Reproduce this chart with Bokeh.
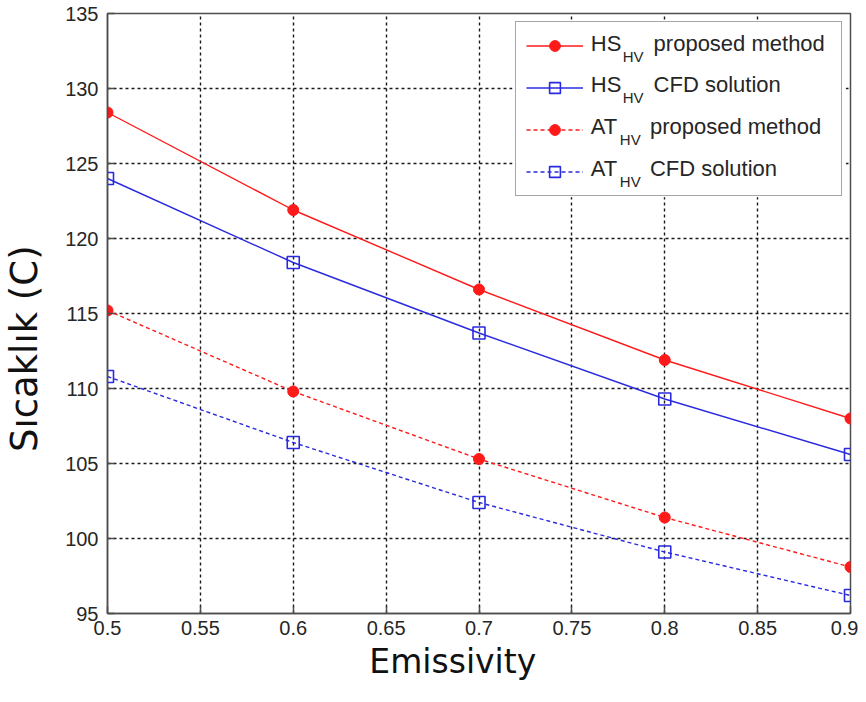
from bokeh.plotting import figure
from bokeh.models import (Range1d, FixedTicker, Legend, LegendItem,
                          ColumnDataSource, BoxAnnotation)
from bokeh.core.properties import value
from bokeh.embed import file_html
from bokeh.resources import INLINE

# ---- data ----
emissivity = [0.5, 0.6, 0.7, 0.8, 0.9]
hs_proposed = [128.4, 121.9, 116.6, 111.9, 108.0]
hs_cfd = [124.0, 118.4, 113.7, 109.3, 105.6]
at_proposed = [115.2, 109.8, 105.3, 101.4, 98.1]
at_cfd = [110.8, 106.4, 102.4, 99.1, 96.2]

x_ticks = [0.5, 0.55, 0.6, 0.65, 0.7, 0.75, 0.8, 0.85, 0.9]
x_tick_labels = ["0.5", "0.55", "0.6", "0.65", "0.7", "0.75", "0.8", "0.85", "0.9"]
y_ticks = [95, 100, 105, 110, 115, 120, 125, 130, 135]

x_title = "Emissivity"
y_title = "Sıcaklık (C)"

legend_prefix = ["HS", "HS", "AT", "AT"]
legend_sub = ["HV", "HV", "HV", "HV"]
legend_rest = ["proposed method", "CFD solution", "proposed method", "CFD solution"]

RED = "#ff1a1a"
BLUE = "#2a2ae0"
TICK_FONT = "Liberation Sans"
NBSP = "\u00a0"

p = figure(width=858, height=686,
           x_range=Range1d(0.5, 0.9), y_range=Range1d(95, 135),
           output_backend="svg", toolbar_location=None,
           min_border_left=106, min_border_right=8,
           min_border_top=13, min_border_bottom=73)

p.outline_line_color = "#4d4d4d"
p.outline_line_width = 1.5

# axes
p.xaxis.ticker = FixedTicker(ticks=x_ticks)
p.xaxis.major_label_overrides = {t: l for t, l in zip(x_ticks, x_tick_labels)}
p.yaxis.ticker = FixedTicker(ticks=y_ticks)
for ax in (p.xaxis[0], p.yaxis[0]):
    ax.axis_line_color = "#4d4d4d"
    ax.axis_line_width = 1.5
    ax.major_tick_line_color = "#4d4d4d"
    ax.major_tick_line_width = 1.5
    ax.major_tick_in = 7
    ax.major_tick_out = 0
    ax.minor_tick_line_color = None
    ax.major_label_text_font = TICK_FONT
    ax.major_label_text_font_size = "20px"
    ax.major_label_text_color = "#262626"
    ax.axis_label_text_font = "DejaVu Sans"
    ax.axis_label_text_font_style = "normal"
    ax.axis_label_text_color = "#111111"

# trailing no-break spaces shift the titles off-centre, as in the original
p.xaxis.axis_label = x_title + NBSP * 5
p.xaxis.axis_label_text_font_size = "33px"
p.xaxis.major_label_standoff = 7
p.xaxis.axis_label_standoff = 4
p.yaxis.axis_label = y_title + NBSP * 6
p.yaxis.axis_label_text_font_size = "37px"
p.yaxis.major_label_standoff = 9
p.yaxis.axis_label_standoff = 16

# grid
for g in (p.xgrid[0], p.ygrid[0]):
    g.grid_line_color = "black"
    g.grid_line_dash = "3 3"
    g.grid_line_width = 1.4
    g.grid_line_alpha = 0.9
p.xgrid.ticker = FixedTicker(ticks=x_ticks)
p.ygrid.ticker = FixedTicker(ticks=y_ticks)

# white backing for the legend (under the legend texts, above the grid)
p.add_layout(BoxAnnotation(left=0.7180, right=0.8975, bottom=122.75, top=134.55,
                           fill_color="white", fill_alpha=1.0, line_color=None,
                           level="underlay"))

# series
l1 = p.line(emissivity, hs_proposed, line_color=RED, line_width=1.4)
m1 = p.scatter(emissivity, hs_proposed, marker="circle", size=11,
               fill_color=RED, line_color=RED)
l2 = p.line(emissivity, hs_cfd, line_color=BLUE, line_width=1.4)
m2 = p.scatter(emissivity, hs_cfd, marker="square", size=12,
               fill_color=None, line_color=BLUE, line_width=1.6)
l3 = p.line(emissivity, at_proposed, line_color=RED, line_width=1.4, line_dash="4 3")
m3 = p.scatter(emissivity, at_proposed, marker="circle", size=11,
               fill_color=RED, line_color=RED)
l4 = p.line(emissivity, at_cfd, line_color=BLUE, line_width=1.4, line_dash="4 3")
m4 = p.scatter(emissivity, at_cfd, marker="square", size=12,
               fill_color=None, line_color=BLUE, line_width=1.6)

legend = Legend(items=[
    LegendItem(label=" ", renderers=[l1, m1]),
    LegendItem(label=" ", renderers=[l2, m2]),
    LegendItem(label=" ", renderers=[l3, m3]),
    LegendItem(label=" ", renderers=[l4, m4]),
], location="top_right")
legend.margin = 8
legend.padding = 10
legend.spacing = 15
legend.glyph_height = 27
legend.glyph_width = 57
legend.label_height = 27
legend.label_standoff = 7
legend.label_width = 241
legend.label_text_font_size = "8px"
legend.border_line_color = "#4d4d4d"
legend.border_line_width = 1.5
legend.background_fill_alpha = 0.0
p.add_layout(legend, "center")

# legend texts (with subscripts)
row_y = [133.03, 130.25, 127.44, 124.70]
sub_dy = -0.87
x_prefix = 0.7602
x_sub = [0.7774, 0.7774, 0.7758, 0.7758]
x_rest = [0.7940, 0.7940, 0.7920, 0.7920]

main_src = ColumnDataSource(dict(x=[x_prefix] * 4 + x_rest, y=row_y + row_y,
                                 t=legend_prefix + legend_rest))
sub_src = ColumnDataSource(dict(x=x_sub, y=[v + sub_dy for v in row_y], t=legend_sub))
p.text(x="x", y="y", text="t", source=main_src, text_font=value(TICK_FONT),
       text_font_size="22px", text_color="#262626", text_baseline="middle")
p.text(x="x", y="y", text="t", source=sub_src, text_font=value(TICK_FONT),
       text_font_size="15px", text_color="#262626", text_baseline="middle")

open("out.html", "w").write(file_html(p, INLINE))
